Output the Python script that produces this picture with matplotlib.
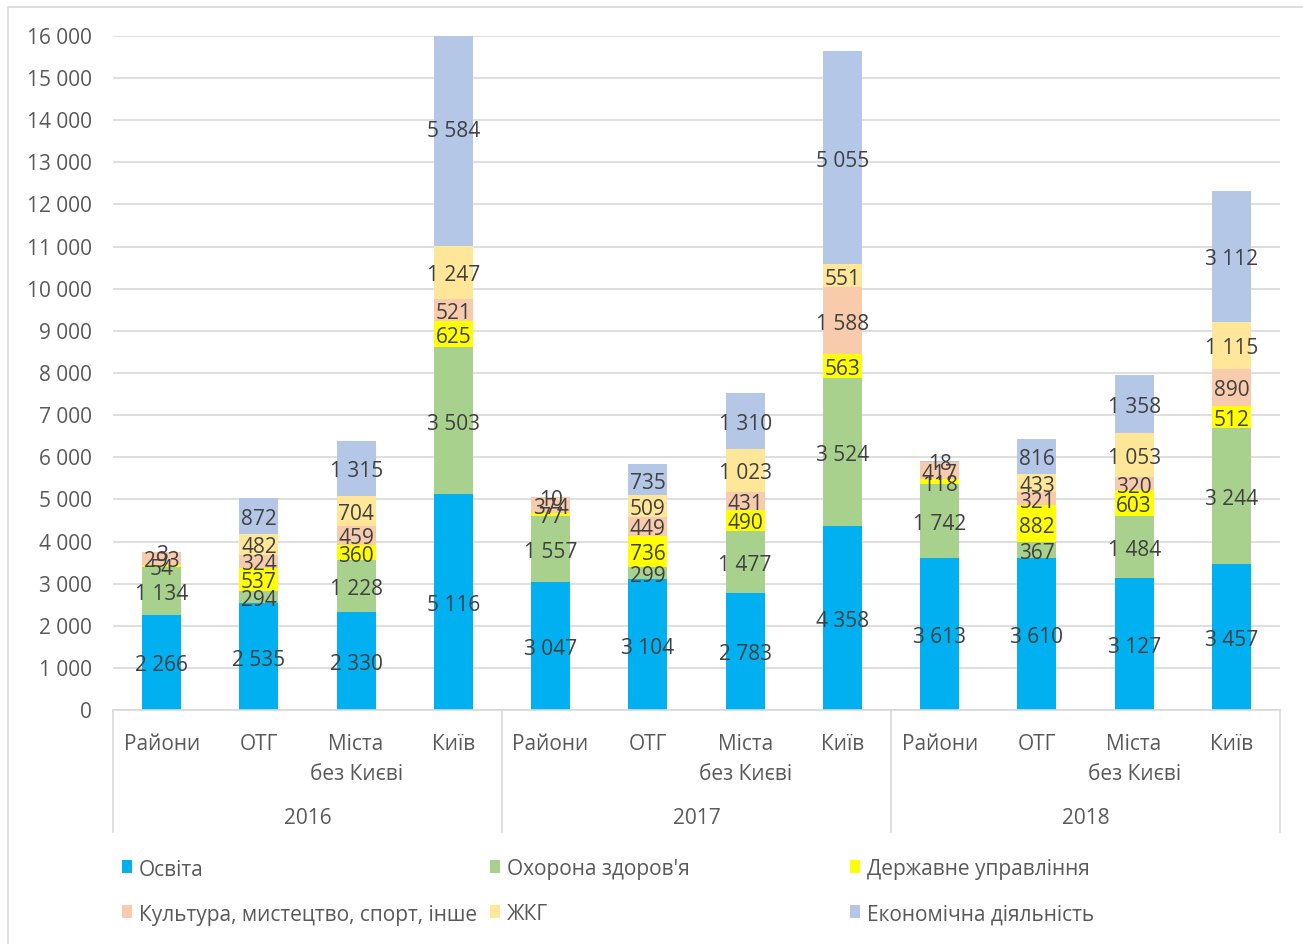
import matplotlib
matplotlib.use("Agg")
import matplotlib.pyplot as plt
from matplotlib.patches import Rectangle
from matplotlib.lines import Line2D
import numpy as np

plt.rcParams['font.family'] = ['Open Sans', 'DejaVu Sans']

years = ["2016", "2017", "2018"]
categories = [["Райони"], ["ОТГ"], ["Міста", "без Києві"], ["Київ"]]
series_names = ["Освіта", "Охорона здоров'я", "Державне управління",
                "Культура, мистецтво, спорт, інше", "ЖКГ", "Економічна діяльність"]
colors = ["#00B0F0", "#A9D18E", "#FFFF00", "#F8CBAD", "#FFE699", "#B4C7E7"]

# values per bar (year x category), order: 2016 x4, 2017 x4, 2018 x4
osvita =     [2266, 2535, 2330, 5116, 3047, 3104, 2783, 4358, 3613, 3610, 3127, 3457]
zdorovya =   [1134,  294, 1228, 3503, 1557,  299, 1477, 3524, 1742,  367, 1484, 3244]
derzh =      [  54,  537,  360,  625,   77,  736,  490,  563,  118,  882,  603,  512]
kultura =    [ 293,  324,  459,  521,  374,  449,  431, 1588,  417,  321,  320,  890]
zhkg =       [   0,  482,  704, 1247,    0,  509, 1023,  551,    0,  433, 1053, 1115]
ekonom =     [   3,  872, 1315, 5584,   10,  735, 1310, 5055,   18,  816, 1358, 3112]

series = [osvita, zdorovya, derzh, kultura, zhkg, ekonom]

W, H = 1303, 944
fig = plt.figure(figsize=(W / 100, H / 100), dpi=100)

def fx(px):
    return px / W

def fy(py):
    return 1 - py / H

# outer chart frame
fig.patches.append(Rectangle((fx(8), fy(960)), fx(1320) - fx(8), fy(7) - fy(960),
                             transform=fig.transFigure, fill=False,
                             edgecolor="#D9D9D9", linewidth=1.2))

ax_l, ax_r, ax_t, ax_b = 113, 1280, 36, 710
ax = fig.add_axes([fx(ax_l), fy(ax_b), fx(ax_r) - fx(ax_l), fy(ax_t) - fy(ax_b)])

n = len(osvita)
x = np.arange(n) + 0.5
bar_w = 0.4
ymax = 16000
fs = 15

def fmt(v):
    return f"{v:,}".replace(",", " ")

bottom = np.zeros(n)
for vals, col in zip(series, colors):
    vals = np.array(vals, dtype=float)
    ax.bar(x, vals, bar_w, bottom=bottom, color=col, zorder=2)
    for xi, b, v in zip(x, bottom, vals):
        if v > 0:
            ax.annotate(fmt(int(v)), (xi, b + v / 2), xytext=(0, -2.5),
                        textcoords="offset points", ha="center", va="center",
                        fontsize=fs, color="#404040", zorder=3, annotation_clip=False)
    bottom += vals

ax.set_xlim(0, n)
ax.set_ylim(0, ymax)
ax.set_yticks(np.arange(0, ymax + 1, 1000))
ax.set_yticklabels([fmt(v) for v in range(0, ymax + 1, 1000)])
ax.tick_params(axis="y", length=0, pad=15, labelsize=fs, labelcolor="#595959")
ax.tick_params(axis="x", length=0, labelbottom=False)
ax.grid(axis="y", color="#D9D9D9", linewidth=1.2, zorder=0)
for s in ["top", "right", "left"]:
    ax.spines[s].set_visible(False)
ax.spines["bottom"].set_color("#D9D9D9")
ax.spines["bottom"].set_linewidth(1.2)
ax.set_axisbelow(True)

# multi-level category axis
tr = ax.get_xaxis_transform()
plot_h = ax_b - ax_t

def ay(py):
    return (ax_b - py) / plot_h

for i, xi in enumerate(x):
    for k, line in enumerate(categories[i % 4]):
        ax.text(xi, ay(744 + 30 * k), line, transform=tr, ha="center", va="center",
                fontsize=fs, color="#595959")
for g, yr in enumerate(years):
    ax.text(g * 4 + 2, ay(819), yr, transform=tr, ha="center", va="center",
            fontsize=fs, color="#595959")
for g in range(len(years) + 1):
    ax.add_line(Line2D([g * 4, g * 4], [0, ay(832)], transform=tr, color="#D9D9D9",
                       linewidth=1.2, clip_on=False))

# legend
legend_pos = [(122, 867), (490, 867), (850, 867), (122, 912), (490, 912), (850, 912)]
for (px, py), name, col in zip(legend_pos, series_names, colors):
    fig.patches.append(Rectangle((fx(px), fy(py + 6)), fx(10), 13 / H,
                                 transform=fig.transFigure, facecolor=col, edgecolor="none"))
    fig.text(fx(px + 17), fy(py + 3), name, ha="left", va="center", fontsize=15,
             color="#595959")

fig.savefig("out.png", dpi=100)
